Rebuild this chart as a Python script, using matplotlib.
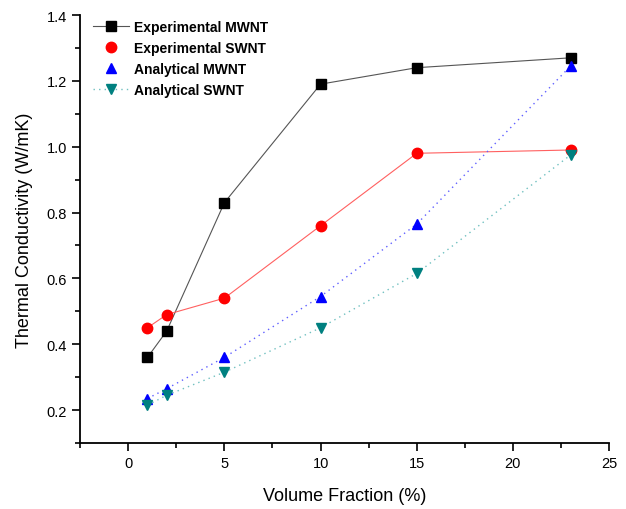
import matplotlib
matplotlib.use("Agg")
import matplotlib.pyplot as plt
from matplotlib.lines import Line2D
from matplotlib.ticker import MultipleLocator

plt.rcParams["font.family"] = ["Liberation Sans", "DejaVu Sans"]

vol_frac = [1, 2, 5, 10, 15, 23]
exp_mwnt = [0.36, 0.44, 0.83, 1.19, 1.24, 1.27]
exp_swnt = [0.45, 0.49, 0.54, 0.76, 0.98, 0.99]
ana_mwnt = [0.235, 0.265, 0.36, 0.545, 0.765, 1.245]
ana_swnt = [0.215, 0.245, 0.315, 0.45, 0.615, 0.975]

fig = plt.figure(figsize=(6.26, 5.1), dpi=100)
ax = fig.add_axes([0.128, 0.1294, 0.845, 0.8392])

ax.plot(vol_frac, exp_mwnt, color="#555555", lw=0.8, marker="s", ms=6.5,
        mfc="black", mec="black", zorder=3)
ax.plot(vol_frac, exp_swnt, color="#ff6060", lw=0.8, marker="o", ms=7.5,
        mfc="red", mec="red", zorder=3)
ax.plot(vol_frac, ana_mwnt, color="#6060ff", lw=1.0, ls=(0, (1, 3)), marker="^", ms=7.5,
        mfc="blue", mec="blue", zorder=3)
ax.plot(vol_frac, ana_swnt, color="#70c0c0", lw=1.0, ls=(0, (1, 3)), marker="v", ms=7.5,
        mfc="#008080", mec="#008080", zorder=3)

ax.set_xlim(-2.5, 25)
ax.set_ylim(0.1, 1.4)
ax.xaxis.set_major_locator(MultipleLocator(5))
ax.xaxis.set_minor_locator(MultipleLocator(2.5))
ax.yaxis.set_minor_locator(MultipleLocator(0.1))
ax.set_yticks([0.2, 0.4, 0.6, 0.8, 1.0, 1.2, 1.4])
ax.set_yticklabels([f"{v:.1f}" for v in [0.2, 0.4, 0.6, 0.8, 1.0, 1.2, 1.4]])

for side in ("top", "right"):
    ax.spines[side].set_visible(False)
for side in ("left", "bottom"):
    ax.spines[side].set_linewidth(1.3)
ax.tick_params(which="major", direction="out", length=6, width=1.2, labelsize=10.5)
ax.tick_params(which="minor", direction="out", length=3.5, width=1.2)

ax.set_xlabel("Volume Fraction (%)", fontsize=13, labelpad=12)
ax.set_ylabel("Thermal Conductivity (W/mK)", fontsize=13, labelpad=10)

handles = [
    Line2D([], [], color="#555555", lw=0.8, marker="s", ms=6.5, mfc="black", mec="black"),
    Line2D([], [], ls="none", marker="o", ms=7.5, mfc="red", mec="red"),
    Line2D([], [], ls="none", marker="^", ms=7.5, mfc="blue", mec="blue"),
    Line2D([], [], color="#70c0c0", lw=1.0, ls=(0, (1, 3)), marker="v", ms=7.5,
           mfc="#008080", mec="#008080"),
]
labels = ["Experimental MWNT", "Experimental SWNT", "Analytical MWNT", "Analytical SWNT"]
ax.legend(handles, labels, loc="upper left", bbox_to_anchor=(0.0, 1.018), frameon=False,
          prop={"weight": "bold", "size": 10}, handlelength=2.6, handletextpad=0.35,
          labelspacing=0.5)

fig.savefig("out.png", dpi=100)
